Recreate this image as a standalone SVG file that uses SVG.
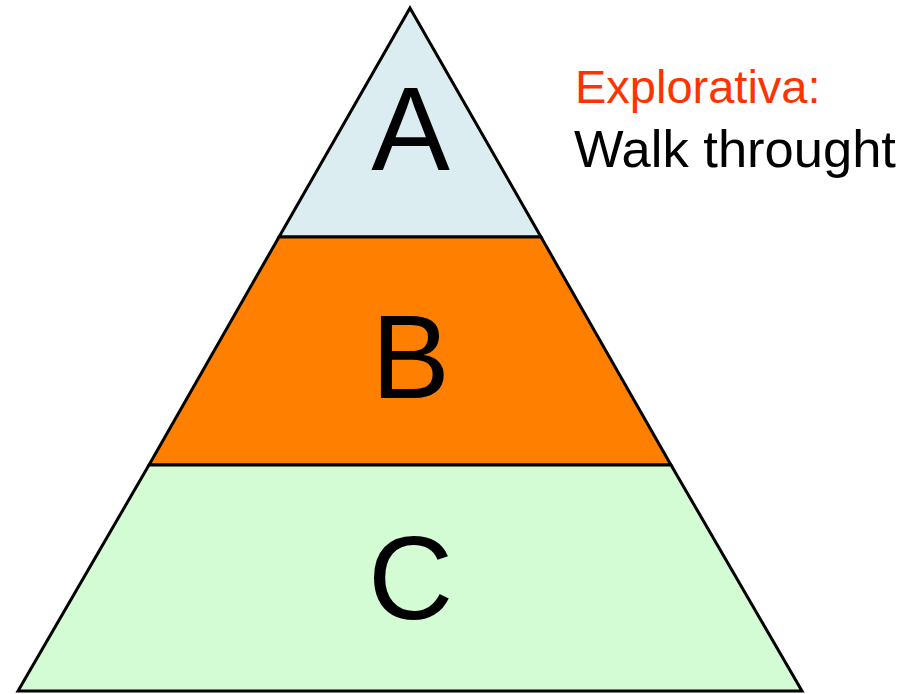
<svg xmlns="http://www.w3.org/2000/svg" width="910" height="694" viewBox="0 0 910 694">
<style>
.tier{stroke:#000;stroke-width:3;stroke-linejoin:miter}
.lbl{font-family:"Liberation Sans",Arial,sans-serif;font-size:118px;fill:#000;text-anchor:middle}
.note{font-family:"Liberation Sans",Arial,sans-serif;font-size:47px}
</style>
<rect width="910" height="694" fill="#fff"/>
<g id="tierA">
<polygon class="tier" points="410,8 279,237 541,237" fill="#DBEDF0"/>
<text class="lbl" x="410.5" y="170">A</text>
</g>
<g id="tierB">
<polygon class="tier" points="279,237 541,237 671,465 149,465" fill="#FF8000"/>
<text class="lbl" x="410.5" y="398">B</text>
</g>
<g id="tierC">
<polygon class="tier" points="149,465 671,465 802,691 18,691" fill="#D4FCD4"/>
<text class="lbl" x="410.5" y="619">C</text>
</g>
<g id="note">
<text class="note" x="575" y="103" fill="#FF3300">Explorativa:</text>
<text class="note" x="574" y="167" fill="#000" style="font-size:52.5px">Walk throught</text>
</g>
</svg>
